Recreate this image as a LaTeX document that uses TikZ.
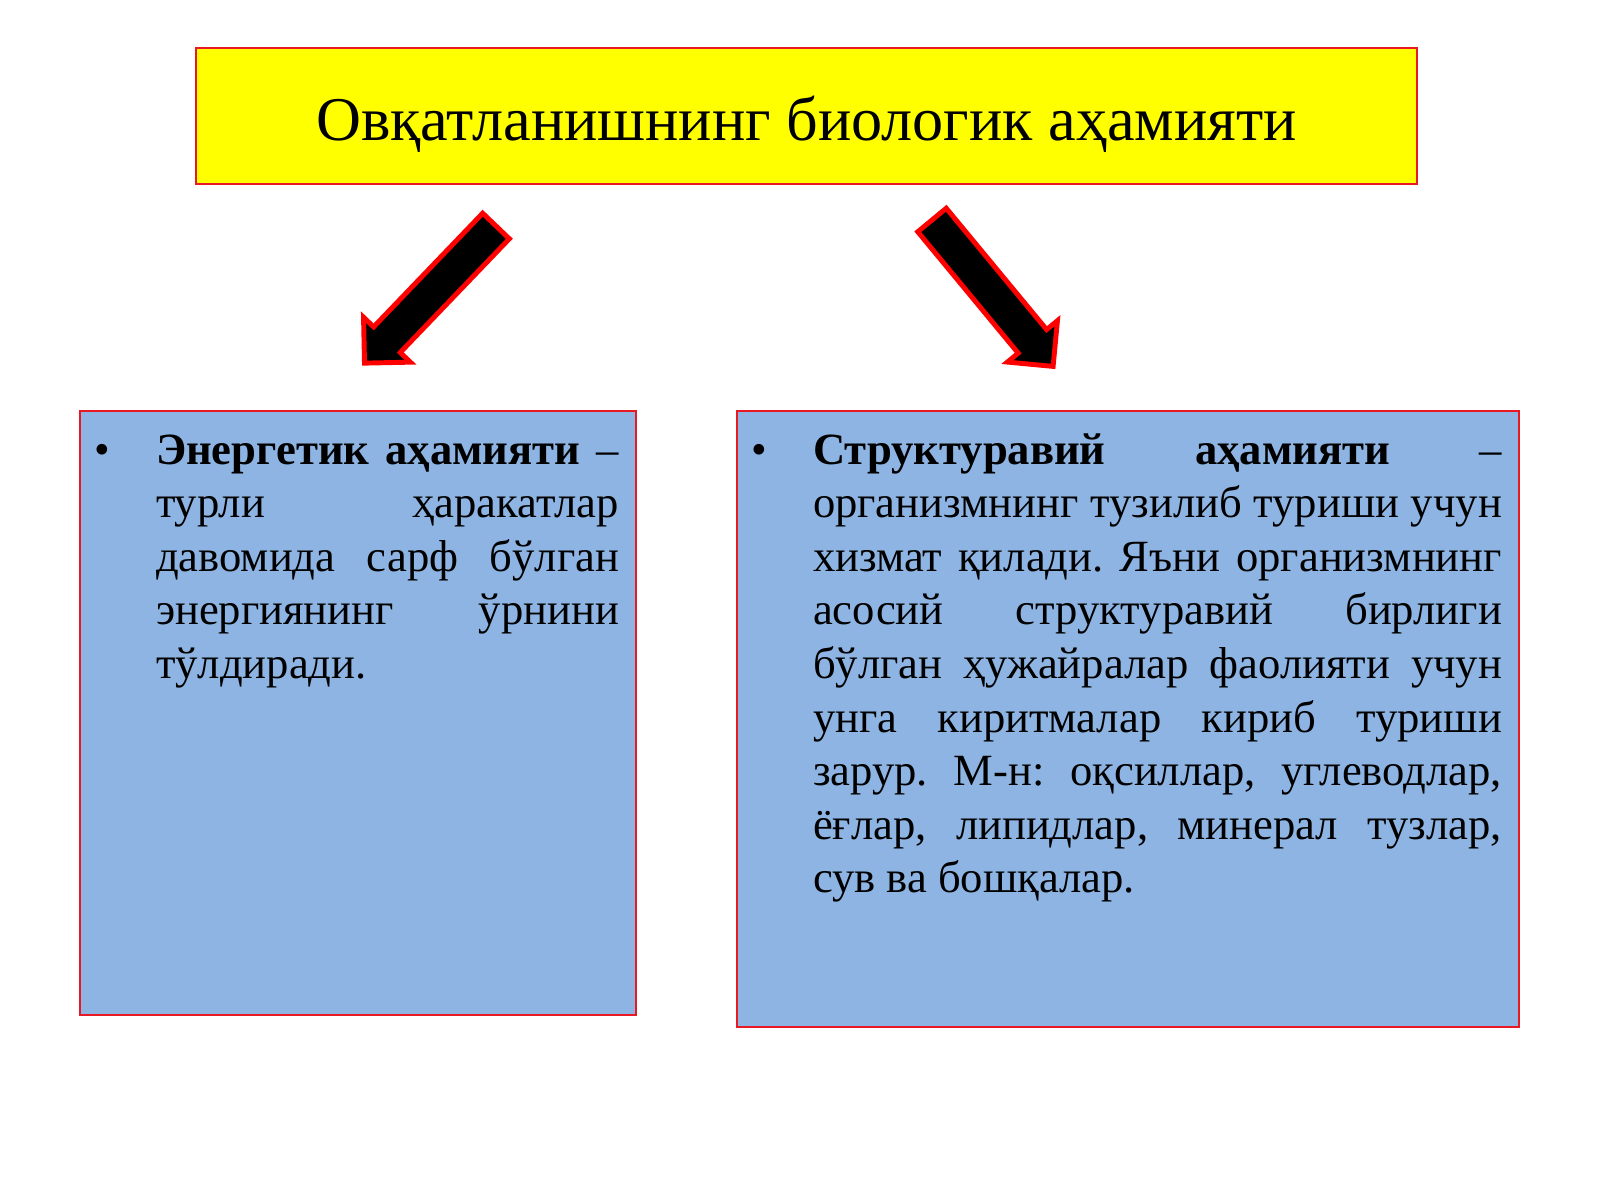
\documentclass[tikz,border=0pt]{standalone}
\usepackage{fontspec}
\setmainfont{Liberation Serif}
\definecolor{titlefill}{RGB}{255,255,0}
\definecolor{boxfill}{RGB}{141,180,226}
\definecolor{edge}{RGB}{232,24,36}
\usetikzlibrary{shapes.arrows}
\usetikzlibrary{positioning}
\tikzstyle{base}=[inner sep=0pt, outer sep=0pt]
\tikzstyle{panel}=[draw=edge, line width=0.8pt, fill=boxfill]
\tikzstyle{bodytext}=[inner sep=0pt, align=justify, font=\fontsize{12.7}{15.25}\selectfont]
\tikzstyle{pointer}=[single arrow, draw=red, fill=black, line width=1.4pt, inner sep=0.16cm, minimum height=1.9cm, single arrow head extend=0.14cm, single arrow tip angle=90, anchor=tail]
\hyphenpenalty=10000
\exhyphenpenalty=10000
\frenchspacing

\begin{document}
\begin{tikzpicture}[base]
    \fill [white] (0,0) rectangle (16,12);
    % title
    \node [draw=edge, line width=0.8pt, fill=titlefill, minimum width=12.21cm, minimum height=1.36cm, text height=13.9pt, text depth=0pt, font=\fontsize{17.7}{21}\selectfont] (title) at (8.065,10.84) {Овқатланишнинг биологик аҳамияти};
    % arrows
    \node [pointer, rotate=226.2] (larrow) at (4.96,9.74) {};
    \node [pointer, rotate=-50.4] (rarrow) at (9.32,9.80) {};
    % panels
    \node [panel, minimum width=5.56cm, minimum height=6.04cm] (lpanel) at (3.58,4.87) {};
    \node [panel, minimum width=7.82cm, minimum height=6.16cm] (rpanel) at (11.28,4.81) {};
    \node [bodytext, text width=4.63cm, below right=0.155cm and 0.76cm of lpanel.north west] (ltext)
        {\strut\textbf{Энергетик аҳамияти} –\linebreak
        турли ҳаракатлар\linebreak
        давомида сарф бўлган\linebreak
        энергиянинг ўрнини\linebreak
        тўлдиради.};
    \node [bodytext, text width=6.89cm, below right=0.155cm and 0.76cm of rpanel.north west] (rtext)
        {\strut\textbf{Структуравий аҳамияти} –\linebreak
        организмнинг тузилиб туриши учун\linebreak
        хизмат қилади. Яъни организмнинг\linebreak
        асосий структуравий бирлиги\linebreak
        бўлган ҳужайралар фаолияти учун\linebreak
        унга киритмалар кириб туриши\linebreak
        зарур. М-н: оқсиллар, углеводлар,\linebreak
        ёғлар, липидлар, минерал тузлар,\linebreak
        сув ва бошқалар.};
    \node [bodytext, anchor=base] (lbullet) at ([shift={(-0.54,-0.375)}]ltext.north west) {•};
    \node [bodytext, anchor=base] (rbullet) at ([shift={(-0.54,-0.375)}]rtext.north west) {•};
    \path [use as bounding box] (0,0) rectangle (16,12);
\end{tikzpicture}
\end{document}
